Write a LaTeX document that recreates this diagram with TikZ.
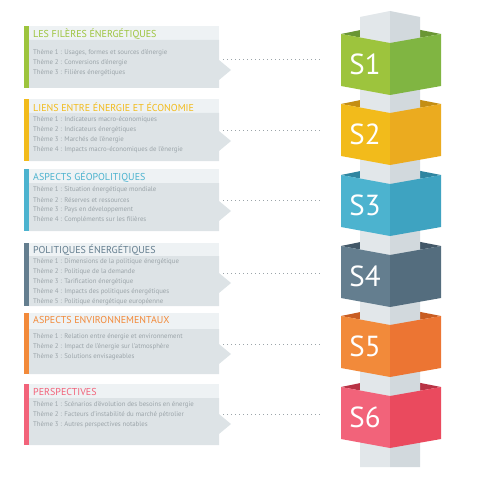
\documentclass[tikz,border=0pt]{standalone}
\usepackage{fontspec}
\setmainfont{PT Sans}
\definecolor{headbg}{HTML}{EEF2F4}
\definecolor{bodybg}{HTML}{DDE3E6}
\definecolor{themetxt}{HTML}{9BA4A9}
\definecolor{pilL}{HTML}{E2E7EA}
\definecolor{pilR}{HTML}{D2D9DD}
\definecolor{grnL}{HTML}{9DC43D}\definecolor{grnR}{HTML}{80B542}\definecolor{grnD}{HTML}{6A9634}
\definecolor{ylwL}{HTML}{F2BB1B}\definecolor{ylwR}{HTML}{EBAB1F}\definecolor{ylwD}{HTML}{C48E14}
\definecolor{bluL}{HTML}{4CB3CF}\definecolor{bluR}{HTML}{3EA3C1}\definecolor{bluD}{HTML}{2F85A0}
\definecolor{slaL}{HTML}{647E8F}\definecolor{slaR}{HTML}{546D7E}\definecolor{slaD}{HTML}{435868}
\definecolor{orgL}{HTML}{F28A3A}\definecolor{orgR}{HTML}{EC7533}\definecolor{orgD}{HTML}{C85D22}
\definecolor{redL}{HTML}{F2637A}\definecolor{redR}{HTML}{EA4A5E}\definecolor{redD}{HTML}{B83345}
\begin{document}
\begin{tikzpicture}[x=1pt,y=-1pt,
  title/.style={anchor=west,inner sep=0pt,font=\fontsize{10}{12}\selectfont},
  theme/.style={anchor=west,inner sep=0pt,text=themetxt,font=\fontsize{6.8}{8}\selectfont},
  slabel/.style={inner sep=0pt,text=white,font=\fontsize{29}{29}\selectfont},
  dots/.style={draw=themetxt,line width=0.7pt,dash pattern=on 0.7pt off 3.3pt}]
\useasboundingbox (0,0) rectangle (500,500);

%% panels
% S1
\fill[grnL] (24,26) rectangle (29,88);
\fill[headbg] (29,26) rectangle (219,40);
\fill[bodybg] (29,40) -- (219,40) -- (219,60) -- (231,70) -- (219,80) -- (219,88) -- (29,88) -- cycle;
\node[title,text=grnL] (t1) at (33,34) {LES FILÈRES ÉNERGÉTIQUES};
\node[theme] (t11) at (33,53) {Thème 1 : Usages, formes et sources d'énergie};
\node[theme] (t12) at (33,63) {Thème 2 : Conversions d'énergie};
\node[theme] (t13) at (33,73) {Thème 3 : Filières énergétiques};
\coordinate (a1) at (223,59);
\coordinate (d1) at (322,59);
\draw[dots] (a1) -- (d1);

% S2
\fill[ylwL] (24,99) rectangle (29,161);
\fill[headbg] (29,99) rectangle (219,113);
\fill[bodybg] (29,113) -- (219,113) -- (219,131) -- (231,141) -- (219,151) -- (219,161) -- (29,161) -- cycle;
\node[title,text=ylwL] (t2) at (33,107) {LIENS ENTRE ÉNERGIE ET ÉCONOMIE};
\node[theme] (t21) at (33,120) {Thème 1 : Indicateurs macro-économiques};
\node[theme] (t22) at (33,130) {Thème 2 : Indicateurs énergétiques};
\node[theme] (t23) at (33,140) {Thème 3 : Marchés de l'énergie};
\node[theme] (t24) at (33,150) {Thème 4 : Impacts macro-économiques de l'énergie};
\coordinate (a2) at (223,130);
\coordinate (d2) at (322,130);
\draw[dots] (a2) -- (d2);

% S3
\fill[bluL] (24,169) rectangle (29,231);
\fill[headbg] (29,169) rectangle (219,183);
\fill[bodybg] (29,183) -- (219,183) -- (219,201) -- (231,211) -- (219,221) -- (219,231) -- (29,231) -- cycle;
\node[title,text=bluL] (t3) at (33,177) {ASPECTS GÉOPOLITIQUES};
\node[theme] (t31) at (33,190) {Thème 1 : Situation énergétique mondiale};
\node[theme] (t32) at (33,200) {Thème 2 : Réserves et ressources};
\node[theme] (t33) at (33,210) {Thème 3 : Pays en développement};
\node[theme] (t34) at (33,220) {Thème 4 : Compléments sur les filières};
\coordinate (a3) at (223,200);
\coordinate (d3) at (322,200);
\draw[dots] (a3) -- (d3);

% S4
\fill[slaL] (24,243) rectangle (29,306);
\fill[headbg] (29,243) rectangle (219,256);
\fill[bodybg] (29,256) -- (219,256) -- (219,273) -- (231,283) -- (219,293) -- (219,306) -- (29,306) -- cycle;
\node[title,text=slaL] (t4) at (33,250) {POLITIQUES ÉNERGÉTIQUES};
\node[theme] (t41) at (33,262) {Thème 1 : Dimensions de la politique énergétique};
\node[theme] (t42) at (33,272) {Thème 2 : Politique de la demande};
\node[theme] (t43) at (33,282) {Thème 3 : Tarification énergétique};
\node[theme] (t44) at (33,292) {Thème 4 : Impacts des politiques énergétiques};
\node[theme] (t45) at (33,302) {Thème 5 : Politique énergétique européenne};
\coordinate (a4) at (223,273);
\coordinate (d4) at (322,273);
\draw[dots] (a4) -- (d4);

% S5
\fill[orgL] (24,313) rectangle (29,374);
\fill[headbg] (29,313) rectangle (219,329);
\fill[bodybg] (29,329) -- (219,329) -- (219,344) -- (231,354) -- (219,364) -- (219,374) -- (29,374) -- cycle;
\node[title,text=orgL] (t5) at (33,320) {ASPECTS ENVIRONNEMENTAUX};
\node[theme] (t51) at (33,337) {Thème 1 : Relation entre énergie et environnement};
\node[theme] (t52) at (33,347) {Thème 2 : Impact de l'énergie sur l'atmosphère};
\node[theme] (t53) at (33,357) {Thème 3 : Solutions envisageables};
\coordinate (a5) at (223,344);
\coordinate (d5) at (322,344);
\draw[dots] (a5) -- (d5);

% S6
\fill[redL] (24,384) rectangle (29,445);
\fill[headbg] (29,384) rectangle (219,398);
\fill[bodybg] (29,398) -- (219,398) -- (219,414) -- (231,424) -- (219,434) -- (219,445) -- (29,445) -- cycle;
\node[title,text=redL] (t6) at (33,392) {PERSPECTIVES};
\node[theme] (t61) at (33,405) {Thème 1 : Scénarios d'évolution des besoins en énergie};
\node[theme] (t62) at (33,415) {Thème 2 : Facteurs d'instabilité du marché pétrolier};
\node[theme] (t63) at (33,425) {Thème 3 : Autres perspectives notables};
\coordinate (a6) at (223,414);
\coordinate (d6) at (322,414);
\draw[dots] (a6) -- (d6);

%% insides of the boxes
\fill[grnD] (341,34) -- (390,24) -- (441,34) -- (390,43) -- cycle;
\fill[ylwD] (341,104) -- (390,94) -- (441,104) -- (390,113) -- cycle;
\fill[bluD] (341,175) -- (390,165) -- (441,175) -- (390,184) -- cycle;
\fill[slaD] (341,246) -- (390,236) -- (441,246) -- (390,255) -- cycle;
\fill[orgD] (341,316) -- (390,306) -- (441,316) -- (390,325) -- cycle;
\fill[redD] (341,387) -- (390,377) -- (441,387) -- (390,396) -- cycle;

%% pillar
\fill[pilL] (360,17) -- (390,11) -- (390,467) -- (360,467) -- cycle;
\fill[pilR] (390,11) -- (420,17) -- (420,467) -- (390,467) -- cycle;

%% boxes
\fill[grnL] (341,34) -- (390,43) -- (390,95) -- (341,86) -- cycle;
\fill[grnR] (390,43) -- (441,34) -- (441,86) -- (390,95) -- cycle;
\node[slabel] (s1) at (365,64) {S1};

\fill[ylwL] (341,104) -- (390,113) -- (390,165) -- (341,156) -- cycle;
\fill[ylwR] (390,113) -- (441,104) -- (441,156) -- (390,165) -- cycle;
\node[slabel] (s2) at (365,134) {S2};

\fill[bluL] (341,175) -- (390,184) -- (390,236) -- (341,227) -- cycle;
\fill[bluR] (390,184) -- (441,175) -- (441,227) -- (390,236) -- cycle;
\node[slabel] (s3) at (365,205) {S3};

\fill[slaL] (341,246) -- (390,255) -- (390,307) -- (341,298) -- cycle;
\fill[slaR] (390,255) -- (441,246) -- (441,298) -- (390,307) -- cycle;
\node[slabel] (s4) at (365,276) {S4};

\fill[orgL] (341,316) -- (390,325) -- (390,377) -- (341,368) -- cycle;
\fill[orgR] (390,325) -- (441,316) -- (441,368) -- (390,377) -- cycle;
\node[slabel] (s5) at (365,346) {S5};

\fill[redL] (341,387) -- (390,396) -- (390,448) -- (341,439) -- cycle;
\fill[redR] (390,396) -- (441,387) -- (441,439) -- (390,448) -- cycle;
\node[slabel] (s6) at (365,417) {S6};

\end{tikzpicture}
\end{document}
